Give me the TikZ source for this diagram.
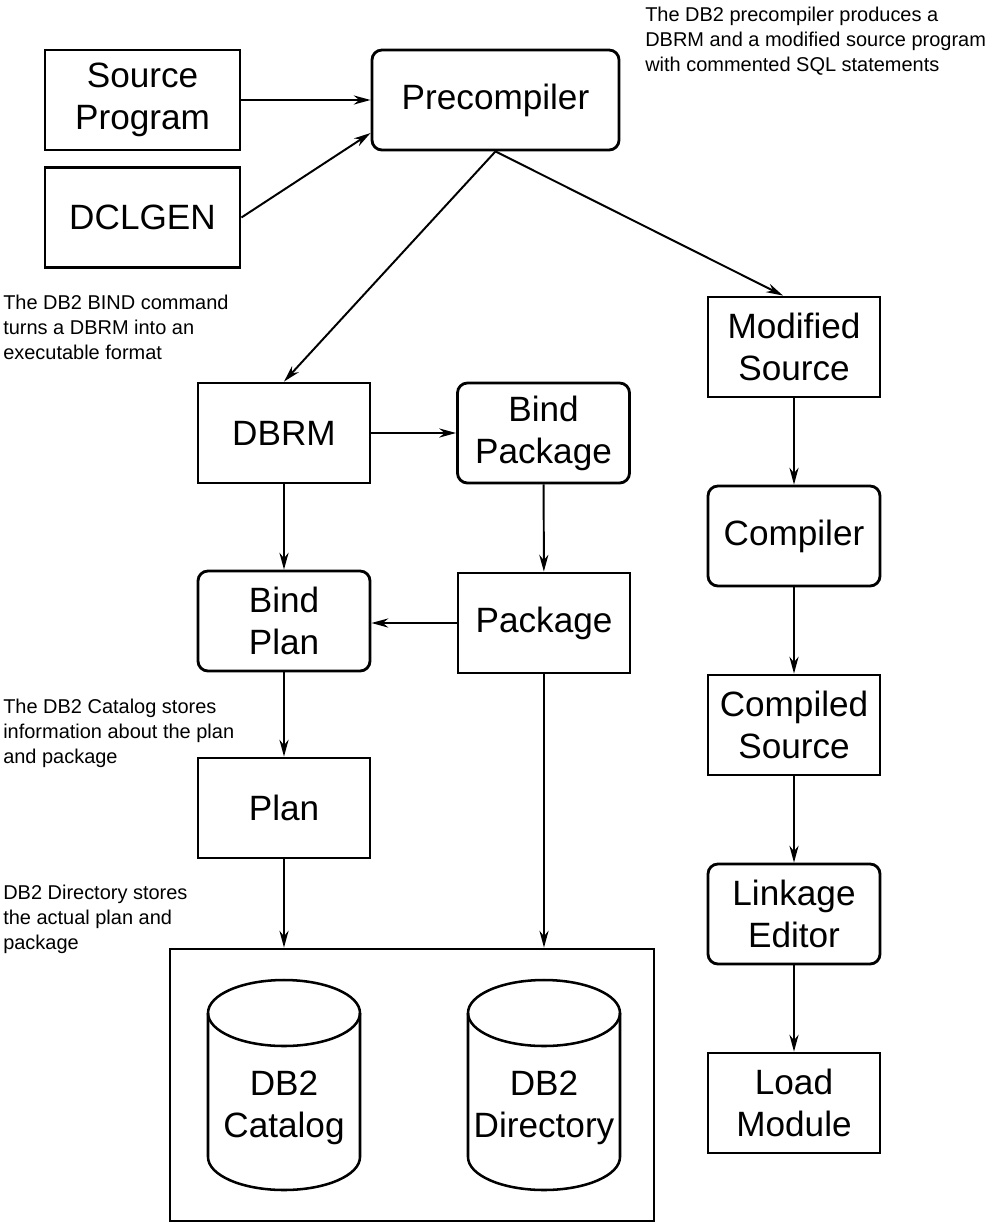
\documentclass[tikz,border=0pt]{standalone}
\usepackage{fontspec}
\setmainfont{Liberation Sans}
\usetikzlibrary{arrows.meta}

\begin{document}
\begin{tikzpicture}
		[x=0.025cm, y=0.025cm, >={Stealth[length=12pt,width=6.5pt]},
		box/.style={draw, line width=2pt, minimum width=4.3cm, minimum height=2.5cm, align=center, font=\fontsize{25}{30}\selectfont},
		rbox/.style={box, rounded corners=0.25cm},
		dbtext/.style={align=center, inner sep=0pt, font=\fontsize{25}{30}\selectfont},
		note/.style={anchor=north west, inner sep=0pt, align=left, font=\fontsize{14.2}{17.8}\selectfont},
		flow/.style={->, line width=1.4pt}]
		\useasboundingbox (0,0) rectangle (1000,-1224);
		
		% inputs and precompiler
		\node[box, minimum width=4.875cm] (src) at (142.5,-100) {Source\\Program};
		\node[box, minimum width=4.875cm] (dcl) at (142.5,-217.5) {DCLGEN};
		\node[rbox, minimum width=6.175cm] (pre) at (495.5,-100) {Precompiler};
		
		% bind side
		\node[box] (dbrm) at (284,-433) {DBRM};
		\node[rbox] (bpkg) at (543.5,-433) {Bind\\Package};
		\node[rbox] (bplan) at (284,-621) {Bind\\Plan};
		\node[box] (pkg) at (544,-623) {Package};
		\node[box] (plan) at (284,-808) {Plan};
		
		% compile side
		\node[box] (mod) at (794,-347) {Modified\\Source};
		\node[rbox] (comp) at (794,-536) {Compiler};
		\node[box] (csrc) at (794,-725) {Compiled\\Source};
		\node[rbox] (link) at (794,-914) {Linkage\\Editor};
		\node[box] (load) at (794,-1103) {Load\\Module};
		
		% DB2 store
		\node[draw, line width=2pt, minimum width=12.1cm, minimum height=6.8cm] (store) at (412,-1085) {};
		\draw[line width=1.8pt] (208,-1013) -- (208,-1157) arc[start angle=180, end angle=360, x radius=76, y radius=33] -- (360,-1013);
		\draw[line width=1.8pt] (284,-1013) ellipse [x radius=76, y radius=33];
		\draw[line width=1.8pt] (468,-1013) -- (468,-1157) arc[start angle=180, end angle=360, x radius=76, y radius=33] -- (620,-1013);
		\draw[line width=1.8pt] (544,-1013) ellipse [x radius=76, y radius=33];
		\node[dbtext] (cat) at (284,-1108) {DB2\\Catalog};
		\node[dbtext] (dir) at (544,-1108) {DB2\\Directory};
		
		% notes
		\node[note] (noteA) at (645,-7) {The DB2 precompiler produces a\\DBRM and a modified source program\\with commented SQL statements};
		\node[note] (noteB) at (3,-295) {The DB2 BIND command\\turns a DBRM into an\\executable format};
		\node[note] (noteC) at (3,-699) {The DB2 Catalog stores\\information about the plan\\and package};
		\node[note] (noteD) at (3,-885) {DB2 Directory stores\\the actual plan and\\package};
		
		\path[flow] (src) edge (pre.west);
		\path[flow] (dcl.east) edge ([yshift=-0.825cm]pre.west);
		\path[flow] (pre.south) edge (dbrm.north);
		\path[flow] (pre.south) edge ([xshift=-0.275cm]mod.north);
		\path[flow] (dbrm) edge (bpkg);
		\path[flow] (dbrm) edge (bplan);
		\path[flow] (bpkg) edge (pkg);
		\path[flow] (pkg.west) edge (pkg.west -| bplan.east);
		\path[flow] (bplan) edge (plan);
		\path[flow] (plan.south) edge (plan.south |- store.north);
		\path[flow] (pkg.south) edge (pkg.south |- store.north);
		\path[flow] (mod) edge (comp);
		\path[flow] (comp) edge (csrc);
		\path[flow] (csrc) edge (link);
		\path[flow] (link) edge (load);
\end{tikzpicture}
\end{document}
